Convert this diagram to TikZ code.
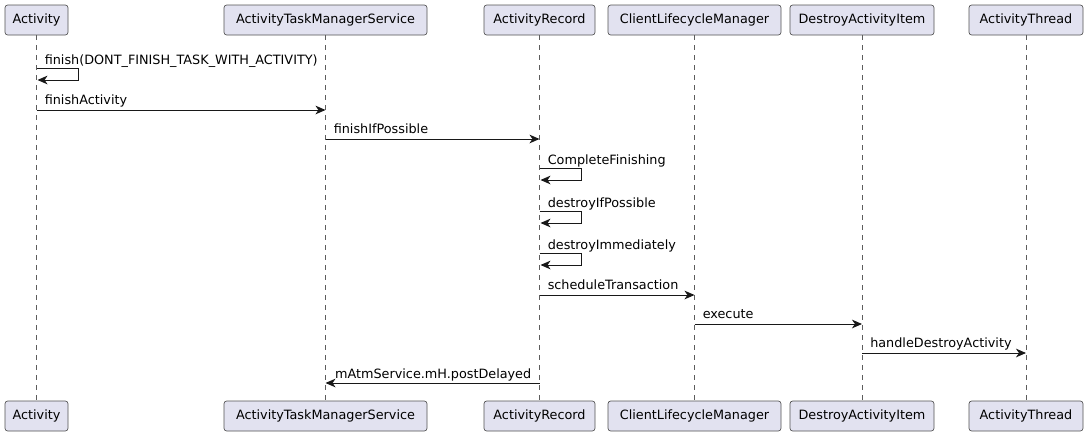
\documentclass[tikz,border=0pt]{standalone}
\usepackage{fontspec}
\setmainfont{DejaVu Sans}
\usetikzlibrary{arrows.meta}
\definecolor{boxfill}{HTML}{E2E2F0}
\definecolor{linecol}{HTML}{181818}
\newcommand\seqfont{\fontsize{9.6}{12}\selectfont}
\tikzset{
  partbox/.style={draw=linecol!75, fill=boxfill, rounded corners=2pt, line width=0.5pt,
    minimum height=22.5pt, inner sep=0pt, font=\seqfont},
  lifeline/.style={draw=linecol!70, line width=0.4pt, dash pattern=on 3.75pt off 3.75pt},
  msg/.style={draw=linecol, line width=0.75pt, -{Stealth[length=7.5pt,width=6.5pt,inset=2.2pt]}},
  lbl/.style={font=\seqfont, inner sep=0pt, anchor=base west}
}
\begin{document}
\begin{tikzpicture}[x=0.75pt, y=-0.75pt]
\useasboundingbox (0,0) rectangle (1085,436);
\node[partbox, minimum width=63*0.75pt] (act) at (36.5,20) {Activity};
\node[partbox, minimum width=203*0.75pt] (atms) at (325.5,20) {ActivityTaskManagerService};
\node[partbox, minimum width=111*0.75pt] (rec) at (539.5,20) {ActivityRecord};
\node[partbox, minimum width=173*0.75pt] (clm) at (694.5,20) {ClientLifecycleManager};
\node[partbox, minimum width=144*0.75pt] (dai) at (862,20) {DestroyActivityItem};
\node[partbox, minimum width=114*0.75pt] (thr) at (1026,20) {ActivityThread};
\node[partbox, minimum width=63*0.75pt] (act2) at (36.5,416) {Activity};
\node[partbox, minimum width=203*0.75pt] (atms2) at (325.5,416) {ActivityTaskManagerService};
\node[partbox, minimum width=111*0.75pt] (rec2) at (539.5,416) {ActivityRecord};
\node[partbox, minimum width=173*0.75pt] (clm2) at (694.5,416) {ClientLifecycleManager};
\node[partbox, minimum width=144*0.75pt] (dai2) at (862,416) {DestroyActivityItem};
\node[partbox, minimum width=114*0.75pt] (thr2) at (1026,416) {ActivityThread};
\draw[lifeline] (act) -- (act2);
\draw[lifeline] (atms) -- (atms2);
\draw[lifeline] (rec) -- (rec2);
\draw[lifeline] (clm) -- (clm2);
\draw[lifeline] (dai) -- (dai2);
\draw[lifeline] (thr) -- (thr2);
\draw[msg] (act |- 0,68) -- ++(42,0) -- ++(0,12) -- ++(-41,0);
\node[lbl] (m1) at ([xshift=6pt, yshift=3pt]act |- 0,68) {finish(DONT\_FINISH\_TASK\_WITH\_ACTIVITY)};
\draw[msg] (act |- 0,110) -- (atms |- 0,110);
\node[lbl] (m2) at ([xshift=6pt, yshift=4pt]act |- 0,110) {finishActivity};
\draw[msg] (atms |- 0,139) -- (rec |- 0,139);
\node[lbl] (m3) at ([xshift=6pt, yshift=4pt]atms |- 0,139) {finishIfPossible};
\draw[msg] (rec |- 0,168) -- ++(42,0) -- ++(0,12) -- ++(-41,0);
\node[lbl] (m4) at ([xshift=6pt, yshift=3pt]rec |- 0,168) {CompleteFinishing};
\draw[msg] (rec |- 0,211) -- ++(42,0) -- ++(0,12) -- ++(-41,0);
\node[lbl] (m5) at ([xshift=6pt, yshift=3pt]rec |- 0,211) {destroyIfPossible};
\draw[msg] (rec |- 0,253) -- ++(42,0) -- ++(0,12) -- ++(-41,0);
\node[lbl] (m6) at ([xshift=6pt, yshift=3pt]rec |- 0,253) {destroyImmediately};
\draw[msg] (rec |- 0,295) -- (clm |- 0,295);
\node[lbl] (m7) at ([xshift=6pt, yshift=4pt]rec |- 0,295) {scheduleTransaction};
\draw[msg] (clm |- 0,324) -- (dai |- 0,324);
\node[lbl] (m8) at ([xshift=6pt, yshift=4pt]clm |- 0,324) {execute};
\draw[msg] (dai |- 0,353) -- (thr |- 0,353);
\node[lbl] (m9) at ([xshift=6pt, yshift=4pt]dai |- 0,353) {handleDestroyActivity};
\draw[msg] (rec |- 0,383) -- (atms |- 0,383);
\node[lbl, anchor=base east] (m10) at ([xshift=-6pt, yshift=3.5pt]rec |- 0,383) {mAtmService.mH.postDelayed};
\end{tikzpicture}
\end{document}
